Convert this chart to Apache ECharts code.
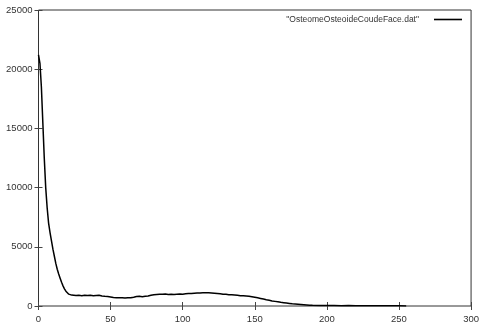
<!DOCTYPE html>
<html><head><meta charset="utf-8">
<script src="https://cdn.jsdelivr.net/npm/echarts@6/dist/echarts.min.js"></script>
<style>html,body{margin:0;padding:0;background:#fff}#c{width:482px;height:329px}</style>
</head><body><div id="c"></div>
<script>
const seriesName = '"OsteomeOsteoideCoudeFace.dat"';
const xValues = [0,1,2,3,4,5,6,7,8,9,10,11,12,13,14,15,16,17,18,19,20,21,22,23,24,26,28,30,32,34,36,38,40,42,44,46,48,50,52,54,56,58,60,62,64,66,68,70,72,74,76,78,80,82,84,86,88,90,92,94,96,98,100,102,104,106,108,110,112,114,116,118,120,122,124,126,128,130,132,134,136,138,140,142,144,146,148,150,152,154,156,158,160,162,164,166,168,170,172,174,176,178,180,182,184,186,188,190,195,200,205,210,215,220,225,230,235,240,245,250,255];
const yValues = [21200,20500,18500,15500,12500,10000,8300,7000,6200,5500,4800,4200,3600,3100,2700,2350,2000,1700,1450,1250,1100,1000,950,920,900,880,900,870,910,880,900,860,880,900,850,820,800,760,720,700,690,700,680,700,690,740,800,820,790,830,850,900,950,980,1000,990,1010,970,990,980,1000,1020,990,1030,1060,1050,1080,1090,1100,1110,1120,1110,1100,1080,1060,1040,1000,990,960,940,920,900,870,860,840,820,780,740,690,640,590,530,480,430,390,350,310,280,250,220,190,170,150,130,110,90,70,55,45,40,35,30,35,30,25,30,25,20,15,25,10];
const xTicks = [0,50,100,150,200,250,300];
const yTicks = [0,5000,10000,15000,20000,25000];

const chart = echarts.init(document.getElementById('c'));
const data = xValues.map((x,i)=>[x,yValues[i]]);
const lab = {color:'#333', fontFamily:'Liberation Sans, Arial, sans-serif', fontSize:9.5};
const tick = {show:true,inside:true,length:4,lineStyle:{color:'#444'}};
chart.setOption({
  animation:false,
  grid:{left:38.5,right:7,top:10,bottom:23,show:true,borderColor:'#333',borderWidth:1},
  legend:{data:[seriesName], right:20, top:15, padding:0, align:'right', itemWidth:28, itemHeight:1.6, itemGap:8,
    icon:'rect', textStyle:{color:'#333', fontFamily:'Liberation Sans, Arial, sans-serif', fontSize:8.5, padding:[0,10,0,0]}},
  xAxis:[
    {type:'value',min:0,max:300,interval:50,axisLine:{show:false},axisTick:tick,
     splitLine:{show:false},axisLabel:Object.assign({margin:8,formatter:v=>String(v)},lab)},
    {type:'value',position:'top',min:0,max:300,interval:50,axisLine:{show:false},axisTick:tick,
     splitLine:{show:false},axisLabel:{show:false}}
  ],
  yAxis:[
    {type:'value',min:0,max:25000,interval:5000,axisLine:{show:false},axisTick:tick,
     splitLine:{show:false},axisLabel:Object.assign({margin:6,formatter:v=>String(v)},lab)},
    {type:'value',position:'right',min:0,max:25000,interval:5000,axisLine:{show:false},axisTick:tick,
     splitLine:{show:false},axisLabel:{show:false}}
  ],
  series:[{name:seriesName,type:'line',data:data,showSymbol:false,symbol:'none',
    lineStyle:{color:'#000',width:1.5},itemStyle:{color:'#000'}}]
});
</script></body></html>
